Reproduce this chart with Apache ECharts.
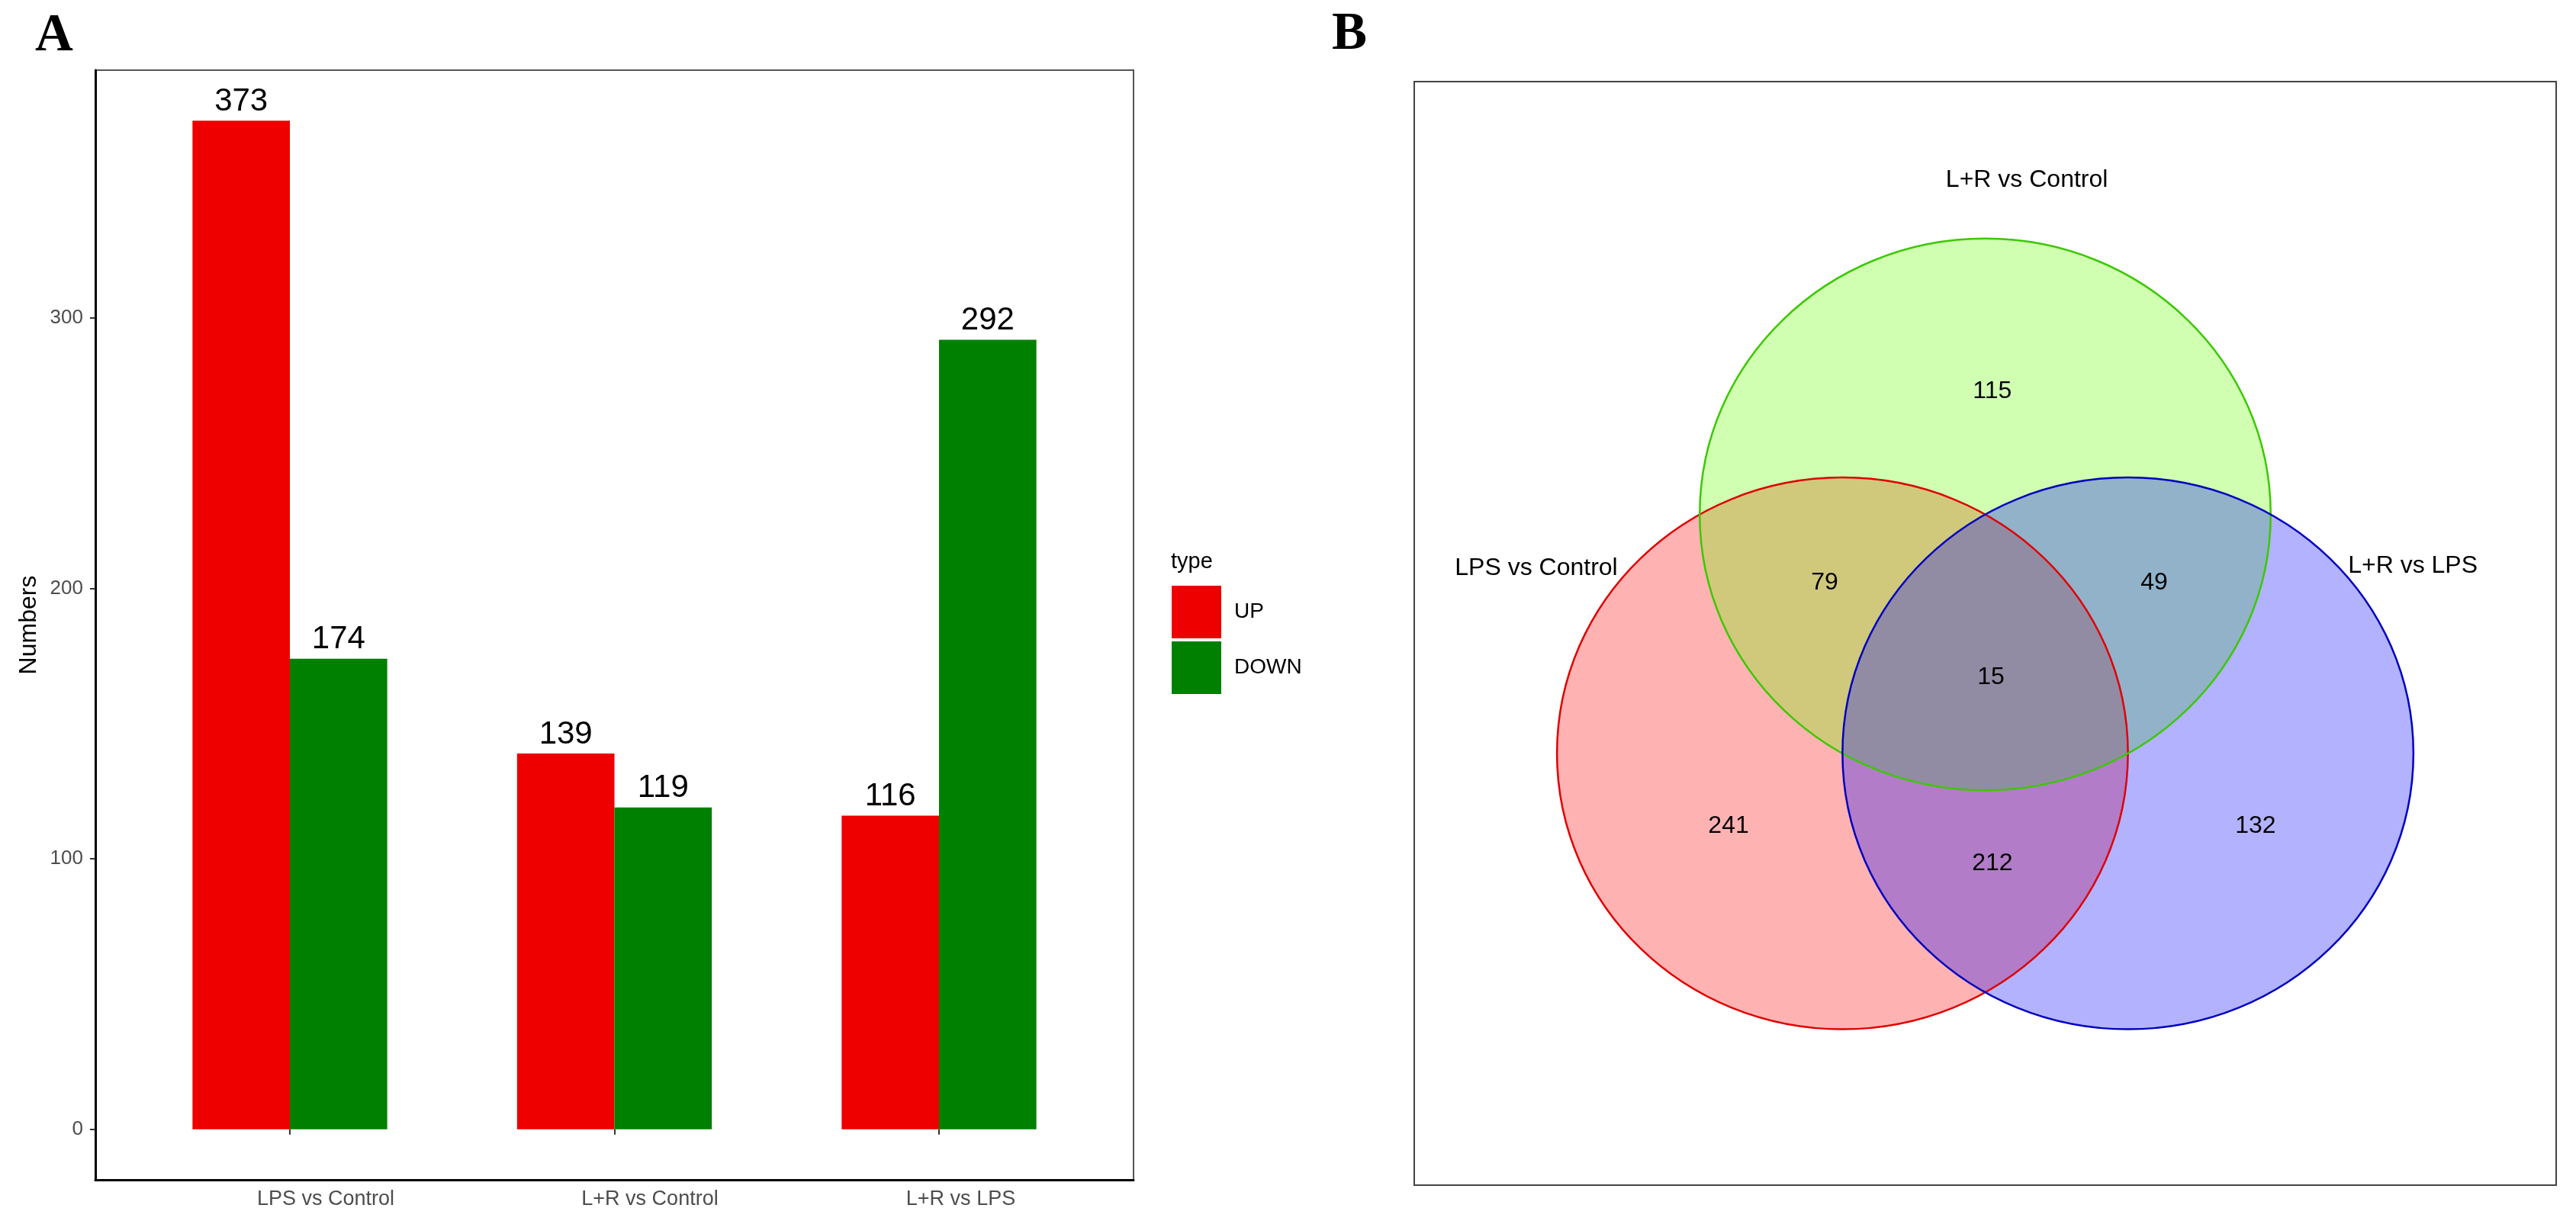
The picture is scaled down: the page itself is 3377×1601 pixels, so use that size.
<!DOCTYPE html>
<html>
<head>
<meta charset="utf-8">
<script src="https://cdn.jsdelivr.net/npm/echarts@6/dist/echarts.min.js"></script>
<style>
    html, body { margin: 0; padding: 0; background: #fff; }
    #main { width: 3377px; height: 1601px; }
</style>
</head>
<body>
<div id="main"></div>
<script>
// 图A：差异基因数量
const categories = ['LPS vs Control', 'L+R vs Control', 'L+R vs LPS'];
const upCounts = [373, 139, 116];
const downCounts = [174, 119, 292];
const yTicks = [0, 100, 200, 300];

// 图B：韦恩图（圆心和半径用单位坐标，0~4），顺序：红、绿、蓝
const setNames = ['LPS vs Control', 'L+R vs Control', 'L+R vs LPS'];
const setCircles = [[1.5, 1.565, 1], [2.0, 2.431, 1], [2.5, 1.565, 1]];
const setLabelPos = [[0.4275, 2.236], [2.146, 3.643], [3.498, 2.245]];
const regionCounts = [115, 241, 132, 79, 49, 212, 15];
const regionPos = [[2.025, 2.878], [1.101, 1.302], [2.947, 1.302], [1.4375, 2.184], [2.592, 2.184], [2.025, 1.167], [2.02, 1.841]];

const sans = 'Liberation Sans';
const vennFill = ['rgba(255,0,0,0.3)', 'rgba(100,255,0,0.3)', 'rgba(0,0,255,0.3)'];
const vennStroke = ['#e00000', '#3cc800', '#0000c0'];
// x轴标签右移（原图左对齐）
const labelShift = [94, 93, 57];

var myChart = echarts.init(document.getElementById('main'));

function circleItem(fillMode) {
    return function (params, api) {
        const c = api.coord([api.value(0), api.value(1)]);
        const s = api.size([api.value(2), api.value(2)]);
        const i = params.dataIndex;
        return {
            type: 'ellipse',
            shape: { cx: c[0], cy: c[1], rx: s[0], ry: s[1] },
            style: fillMode
                ? { fill: vennFill[i], stroke: null, lineWidth: 0 }
                : { fill: null, stroke: vennStroke[i], lineWidth: 2.5 }
        };
    };
}

function textItem(texts) {
    return function (params, api) {
        const p = api.coord([api.value(0), api.value(1)]);
        return {
            type: 'text',
            x: p[0],
            y: p[1],
            style: {
                text: String(texts[params.dataIndex]),
                fontSize: 32,
                fontFamily: sans,
                fill: '#000',
                align: 'center',
                verticalAlign: 'middle'
            }
        };
    };
}

var option = {
    animation: false,
    backgroundColor: '#fff',
    title: [
        { text: 'A', left: 46, top: 14, padding: 0, textStyle: { fontFamily: 'Liberation Serif', fontWeight: 'bold', fontSize: 69, color: '#000' } },
        { text: 'B', left: 1746, top: 12, padding: 0, textStyle: { fontFamily: 'Liberation Serif', fontWeight: 'bold', fontSize: 69, color: '#000' } },
        { text: 'type', left: 1535, top: 722, padding: 0, textStyle: { fontFamily: sans, fontWeight: 'normal', fontSize: 29, color: '#000' } }
    ],
    legend: {
        data: ['UP', 'DOWN'],
        orient: 'vertical',
        left: 1536,
        top: 768,
        padding: 0,
        itemWidth: 65,
        itemHeight: 69,
        itemGap: 4,
        icon: 'rect',
        selectedMode: false,
        itemStyle: { borderWidth: 0 },
        textStyle: { fontSize: 28, color: '#000', fontFamily: sans, padding: [0, 0, 0, 12] }
    },
    grid: [
        { left: 125, top: 92, width: 1361, height: 1455, show: true, borderColor: '#555', borderWidth: 2, backgroundColor: 'transparent' },
        { left: 167.25, top: 92, width: 1276.5, height: 1455 },
        { left: 1854, top: 107, width: 1497, height: 1447, show: true, borderColor: '#444', borderWidth: 2, backgroundColor: 'transparent' }
    ],
    xAxis: [
        {
            gridIndex: 0, type: 'value', min: 0, max: 1,
            axisLine: { show: true, onZero: false, lineStyle: { color: '#000', width: 3 } },
            axisTick: { show: false }, axisLabel: { show: false }, splitLine: { show: false }
        },
        {
            gridIndex: 1, type: 'category',
            data: categories.map((c, i) => ({ value: c, textStyle: { padding: [0, 0, 0, labelShift[i]] } })),
            axisLine: { show: false },
            axisTick: { show: true, alignWithLabel: true, length: 7, lineStyle: { color: '#333', width: 2 } },
            axisLabel: { interval: 0, fontSize: 27, color: '#4d4d4d', fontFamily: sans, margin: 12 },
            splitLine: { show: false }
        },
        { gridIndex: 2, type: 'value', min: 0, max: 4, show: false }
    ],
    yAxis: [
        {
            gridIndex: 0, type: 'value', min: -18.65, max: 391.65,
            axisLine: { show: true, onZero: false, lineStyle: { color: '#000', width: 3 } },
            axisTick: { show: true, length: 7, customValues: yTicks, lineStyle: { color: '#333', width: 2 } },
            axisLabel: { customValues: yTicks, fontSize: 26, color: '#4d4d4d', fontFamily: sans, margin: 16 },
            splitLine: { show: false },
            name: 'Numbers', nameLocation: 'middle', nameGap: 71, nameRotate: 90,
            nameTextStyle: { fontSize: 32, color: '#000', fontFamily: sans }
        },
        { gridIndex: 1, type: 'value', min: -18.65, max: 391.65, show: false },
        { gridIndex: 2, type: 'value', min: 0, max: 4, show: false }
    ],
    series: [
        {
            name: 'UP', type: 'bar', xAxisIndex: 1, yAxisIndex: 1,
            data: upCounts, barWidth: 127.65, barGap: '0%',
            itemStyle: { color: '#ee0000' },
            label: { show: true, position: 'top', distance: 4, fontSize: 42, color: '#000', fontFamily: sans }
        },
        {
            name: 'DOWN', type: 'bar', xAxisIndex: 1, yAxisIndex: 1,
            data: downCounts, barWidth: 127.65, barGap: '0%',
            itemStyle: { color: '#008000' },
            label: { show: true, position: 'top', distance: 4, fontSize: 42, color: '#000', fontFamily: sans }
        },
        // 韦恩图填充
        {
            type: 'custom', xAxisIndex: 2, yAxisIndex: 2, silent: true, clip: false,
            data: setCircles, renderItem: circleItem(true)
        },
        // 韦恩图边线
        {
            type: 'custom', xAxisIndex: 2, yAxisIndex: 2, silent: true, clip: false,
            data: setCircles, renderItem: circleItem(false)
        },
        // 集合名称
        {
            type: 'custom', xAxisIndex: 2, yAxisIndex: 2, silent: true, clip: false,
            data: setLabelPos, renderItem: textItem(setNames)
        },
        // 区域计数
        {
            type: 'custom', xAxisIndex: 2, yAxisIndex: 2, silent: true, clip: false,
            data: regionPos, renderItem: textItem(regionCounts)
        }
    ]
};

myChart.setOption(option);
</script>
</body>
</html>
